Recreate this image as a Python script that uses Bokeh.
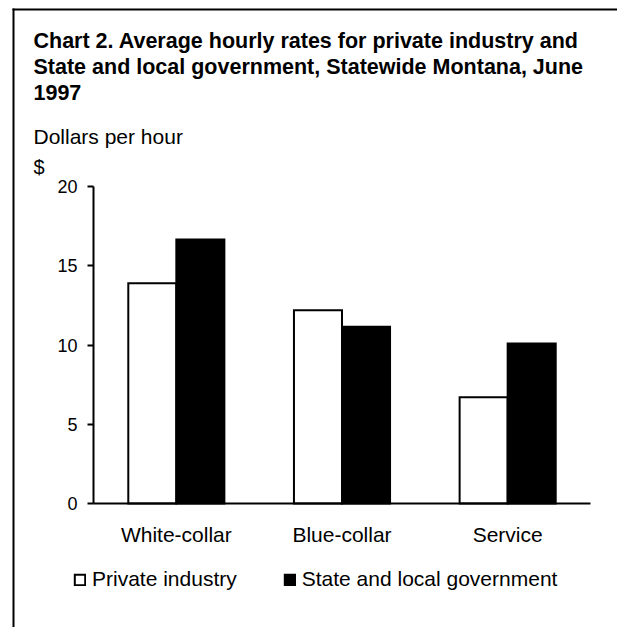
from bokeh.plotting import figure
from bokeh.models import (Range1d, Label, BoxAnnotation, Legend, LegendItem,
                          ColumnDataSource, FixedTicker, LinearAxis)
from bokeh.transform import dodge
from bokeh.embed import file_html
from bokeh.resources import INLINE

categories = ["White-collar", "Blue-collar", "Service"]
private_industry = [13.9, 12.2, 6.7]
state_local_gov = [16.65, 11.15, 10.1]
series_names = ["Private industry", "State and local government"]
y_ticks = [0, 5, 10, 15, 20]
title_lines = [
    "Chart 2. Average hourly rates for private industry and",
    "State and local government, Statewide Montana, June",
    "1997",
]
y_unit_label = "Dollars per hour"
y_prefix = "$"

FONT = "Liberation Sans"

# layout (pixels)
W, H = 617, 627
AX_LEFT_PX, AX_RIGHT_PX = 93, 590
Y_ZERO_PX, Y_TOP_PX = 503, 186

n = len(categories)
ymax = y_ticks[-1]
kx = (AX_RIGHT_PX - AX_LEFT_PX) / n
ky = (Y_ZERO_PX - Y_TOP_PX) / ymax

centers = [i + 0.5 for i in range(n)]
source = ColumnDataSource(dict(x=centers, cat=categories,
                               priv=private_industry, gov=state_local_gov))

p = figure(width=W, height=H,
           x_range=Range1d(-AX_LEFT_PX / kx, (W - AX_LEFT_PX) / kx),
           y_range=Range1d(-(H - Y_ZERO_PX) / ky, ymax + Y_TOP_PX / ky),
           x_axis_location=None, y_axis_location=None,
           output_backend="svg", toolbar_location=None, min_border=0)
p.outline_line_color = None
p.background_fill_color = "white"
p.border_fill_color = "white"
for g in p.grid:
    g.visible = False

bw = 0.29
r1 = p.vbar(x=dodge("x", -bw / 2), top="priv", width=bw, source=source,
            fill_color="white", line_color="black", line_width=2, line_join="miter")
r2 = p.vbar(x=dodge("x", bw / 2), top="gov", width=bw, source=source,
            fill_color="black", line_color="black", line_width=2, line_join="miter")

yaxis = LinearAxis(fixed_location=0, ticker=FixedTicker(ticks=y_ticks), bounds=(0, ymax),
                   major_tick_out=6, major_tick_in=0, minor_tick_out=0, minor_tick_in=0,
                   axis_line_width=2, major_tick_line_width=2,
                   axis_line_color="black", major_tick_line_color="black",
                   major_label_text_font=FONT, major_label_text_font_size="18px",
                   major_label_text_color="black", major_label_standoff=10)
p.add_layout(yaxis, "left")

xaxis = LinearAxis(fixed_location=0, ticker=FixedTicker(ticks=centers), bounds=(0, n),
                   major_label_overrides={c: name for c, name in zip(centers, categories)},
                   major_tick_out=0, major_tick_in=0, minor_tick_out=0, minor_tick_in=0,
                   axis_line_width=2, axis_line_color="black",
                   major_label_text_font=FONT, major_label_text_font_size="21px",
                   major_label_text_color="black", major_label_standoff=19)
p.add_layout(xaxis, "below")

legend = Legend(items=[LegendItem(label=series_names[0], renderers=[r1]),
                       LegendItem(label=series_names[1], renderers=[r2])],
                orientation="horizontal", location=(73, H - 591),
                glyph_width=13, glyph_height=13, label_standoff=6, spacing=46,
                label_height=20, padding=0, margin=0, border_line_color=None,
                background_fill_alpha=0,
                label_text_font=FONT, label_text_font_size="21px", label_text_color="black")
p.add_layout(legend)

title_baselines = [40, 66, 92]
for t, yy in zip(title_lines, title_baselines):
    p.add_layout(Label(x=33, y=H - yy, x_units="screen", y_units="screen", text=t,
                       text_font=FONT, text_font_style="bold", text_font_size="21.5px",
                       text_color="black", text_baseline="alphabetic"))
p.add_layout(Label(x=33, y=H - 136, x_units="screen", y_units="screen", text=y_unit_label,
                   text_font=FONT, text_font_size="21px", text_color="black",
                   text_baseline="alphabetic"))
p.add_layout(Label(x=33, y=H - 166, x_units="screen", y_units="screen", text=y_prefix,
                   text_font=FONT, text_font_size="20px", text_color="black",
                   text_baseline="alphabetic"))

# open frame: a left rule and a top rule drawn as thin filled boxes
frame_kw = dict(left_units="screen", right_units="screen", top_units="screen",
                bottom_units="screen", fill_color="black", fill_alpha=1, line_color=None)
p.add_layout(BoxAnnotation(left=12, right=14, top=H - 8, bottom=0, **frame_kw))
p.add_layout(BoxAnnotation(left=12, right=W, top=H - 8, bottom=H - 10, **frame_kw))

open("out.html", "w").write(file_html(p, INLINE))
